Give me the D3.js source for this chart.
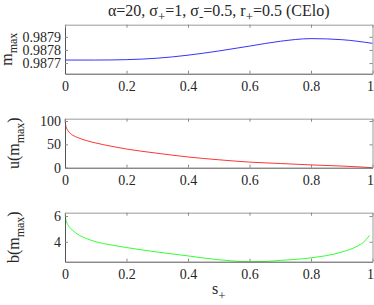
<!DOCTYPE html>
<html>
<head>
<meta charset="utf-8">
<script src="https://cdn.jsdelivr.net/npm/d3@7"></script>
<style>
body { margin: 0; background: #fff; }
svg text { font-family: "Liberation Serif", "Times New Roman", serif; }
</style>
</head>
<body>
<div class="chart"></div>
<script>
const w = 374, h = 305;

// s+ sample points and values
const sM = [0, 0.1, 0.2, 0.3, 0.4, 0.5, 0.6, 0.7, 0.8, 0.9, 1.0];
const mMax = [0.987723, 0.987723, 0.987726, 0.987737, 0.98776, 0.987792, 0.987829, 0.987866, 0.987886, 0.987878, 0.98785];

const sU = [0, 0.002, 0.005, 0.01, 0.02, 0.04, 0.07, 0.1, 0.15, 0.2, 0.3, 0.4, 0.5, 0.6, 0.7, 0.8, 0.9, 0.95, 1.0];
const uVals = [104, 92, 85, 79, 72, 65, 58, 53, 46, 40, 31, 23, 17, 12, 9, 6, 3.5, 2, 0];

const sB = [0, 0.003, 0.01, 0.02, 0.04, 0.07, 0.1, 0.15, 0.2, 0.3, 0.4, 0.5, 0.55, 0.6, 0.65, 0.7, 0.8, 0.9, 0.95, 0.97, 0.99];
const bVals = [6.2, 5.7, 5.3, 5.0, 4.6, 4.25, 4.0, 3.75, 3.55, 3.2, 2.9, 2.6, 2.5, 2.45, 2.47, 2.55, 2.75, 3.2, 3.65, 3.95, 4.5];

const xTicks = [0, 0.2, 0.4, 0.6, 0.8, 1];

const panels = [
  { s: sM, v: mMax, color: "#0000ff", top: 24.7, dom: [0.987619, 0.987992], ticks: [0.9877, 0.9878, 0.9879], fmt: d3.format(".4f"), lab: ["m", "max", ""], lx: 12 },
  { s: sU, v: uVals, color: "#ff0000", top: 118.7, dom: [0, 105], ticks: [0, 50, 100], fmt: d3.format("d"), lab: ["u(m", "max", ")"], lx: 19 },
  { s: sB, v: bVals, color: "#00ff00", top: 212.7, dom: [2.45, 6.26], ticks: [4, 6], fmt: d3.format("d"), lab: ["b(m", "max", ")"], lx: 19 }
];

const left = 65, right = 372.5, ph = 49;
const serif = "'Liberation Serif', 'Times New Roman', serif";

const svg = d3.select(".chart").append("svg")
  .attr("width", w)
  .attr("height", h);

const x = d3.scaleLinear().domain([0, 1]).range([left, right]);

function styleAxis(a) {
  a.attr("font-family", serif).attr("font-size", 14);
  a.selectAll(".tick text").attr("fill", "#262626");
  a.selectAll(".tick line").attr("stroke", "#888");
}

panels.forEach(p => {
  const y = d3.scaleLinear().domain(p.dom).range([p.top + ph, p.top]);
  const g = svg.append("g");

  const line = d3.line()
    .x((d, i) => x(p.s[i]))
    .y(d => y(d))
    .curve(d3.curveMonotoneX);
  g.append("path")
    .datum(p.v)
    .attr("d", line)
    .attr("fill", "none")
    .attr("stroke", p.color)
    .attr("stroke-width", 0.8);

  // bottom + left axes with inward ticks
  g.append("g")
    .attr("transform", "translate(0," + (p.top + ph) + ")")
    .call(d3.axisBottom(x).tickValues(xTicks).tickSizeInner(-3).tickSizeOuter(0).tickPadding(7).tickFormat(d3.format("")))
    .call(styleAxis)
    .call(a => a.select(".domain").attr("stroke", "#555"))
    .call(a => a.selectAll(".tick text").filter(d => d === 1).attr("text-anchor", "end").attr("dx", 1));
  g.append("g")
    .attr("transform", "translate(" + left + ",0)")
    .call(d3.axisLeft(y).tickValues(p.ticks).tickSizeInner(-3).tickSizeOuter(0).tickPadding(4).tickFormat(p.fmt))
    .call(styleAxis)
    .call(a => a.select(".domain").attr("stroke", "#555"));
  // top + right box with ticks, no labels
  g.append("g")
    .attr("transform", "translate(0," + p.top + ")")
    .call(d3.axisTop(x).tickValues(xTicks).tickSizeInner(-3).tickSizeOuter(0).tickFormat(""))
    .call(styleAxis)
    .call(a => a.select(".domain").attr("stroke", "#bbb").attr("stroke-width", 1.5));
  g.append("g")
    .attr("transform", "translate(" + right + ",0)")
    .call(d3.axisRight(y).tickValues(p.ticks).tickSizeInner(-3).tickSizeOuter(0).tickFormat(""))
    .call(styleAxis)
    .call(a => a.select(".domain").attr("stroke", "#999"));

  // rotated y label with subscript
  const t = svg.append("text")
    .attr("transform", "translate(" + p.lx + "," + (p.top + ph / 2) + ") rotate(-90)")
    .attr("text-anchor", "middle")
    .attr("font-size", 16)
    .attr("fill", "#262626");
  t.append("tspan").text(p.lab[0]);
  t.append("tspan").attr("dy", 5).attr("font-size", 12).text(p.lab[1]);
  if (p.lab[2]) t.append("tspan").attr("dy", -5).text(p.lab[2]);
});

// title
const title = svg.append("text")
  .attr("x", (left + right) / 2)
  .attr("y", 16)
  .attr("text-anchor", "middle")
  .attr("font-size", 16)
  .attr("fill", "#262626");
title.append("tspan").text("\u03b1=20, \u03c3");
title.append("tspan").attr("dy", 5).attr("font-size", 13).text("+");
title.append("tspan").attr("dy", -5).text("=1, \u03c3");
title.append("tspan").attr("dy", 5).attr("font-size", 13).text("-");
title.append("tspan").attr("dy", -5).text("=0.5, r");
title.append("tspan").attr("dy", 5).attr("font-size", 13).text("+");
title.append("tspan").attr("dy", -5).text("=0.5 (CElo)");

// x label
const xl = svg.append("text")
  .attr("x", (left + right) / 2)
  .attr("y", 294)
  .attr("text-anchor", "middle")
  .attr("font-size", 16)
  .attr("fill", "#262626");
xl.append("tspan").text("s");
xl.append("tspan").attr("dy", 6).attr("font-size", 13).text("+");
</script>
</body>
</html>
